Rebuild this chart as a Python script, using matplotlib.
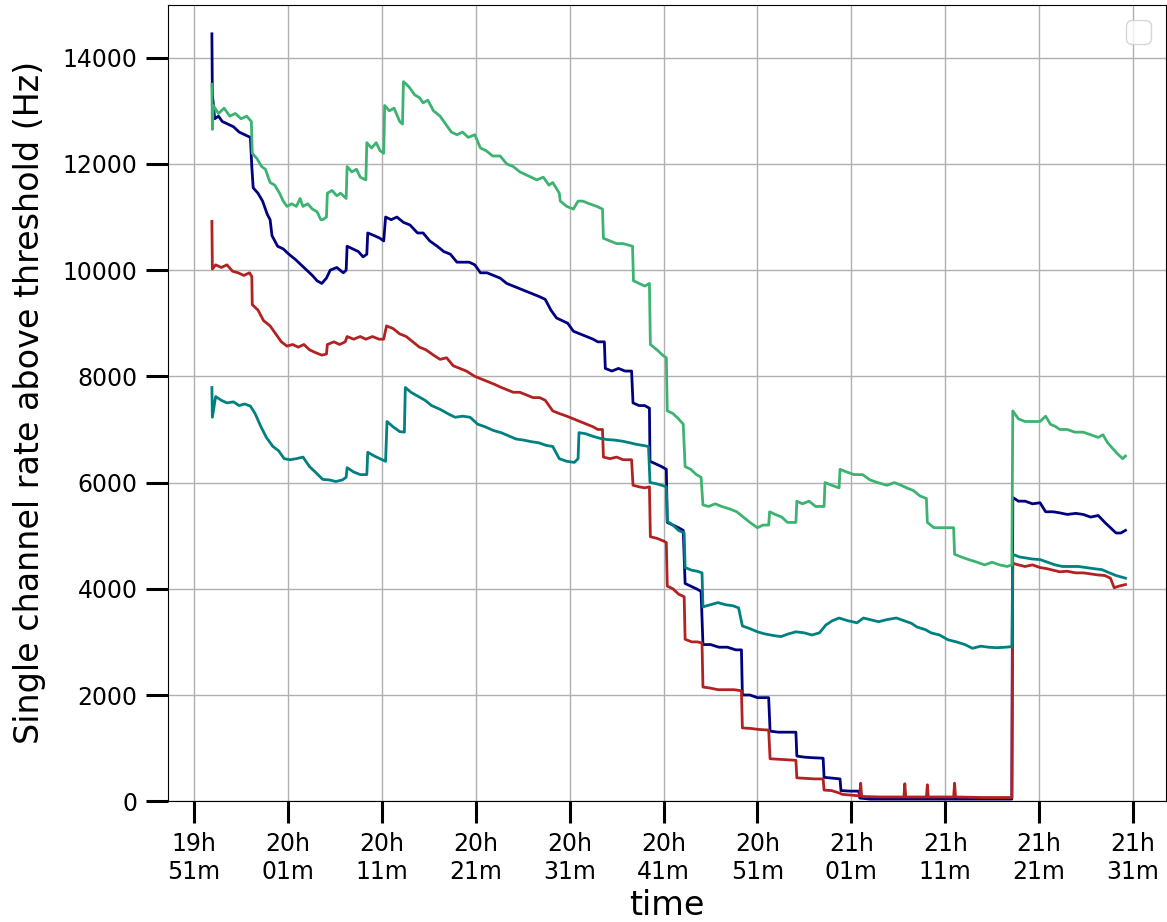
import matplotlib
matplotlib.use('Agg')
import matplotlib.pyplot as plt
import matplotlib.dates as mdates
import pandas as pd

# minutes after 19h51m and single channel rate (Hz) for each channel
navy_t = [1.9, 1.95, 2.2, 2.6, 3.0, 3.6, 4.2, 4.8, 5.4, 6.0, 6.15, 6.3, 6.8, 7.3, 7.8, 8.1, 8.3, 8.9, 9.5, 10.1,
          10.8, 11.4, 12.0, 12.6, 13.1, 13.6, 14.1, 14.5, 15.2, 15.9, 16.2, 16.3, 16.9, 17.5, 18.0, 18.4, 18.5, 19.2,
          19.8, 20.2, 20.4, 21.0, 21.6, 22.3, 23.0, 23.8, 24.4, 25.1, 25.9, 26.6, 27.3, 28.0, 28.6, 29.3, 29.9, 30.5,
          31.2, 31.9, 32.6, 33.3, 34.0, 34.7, 35.4, 36.1, 36.8, 37.4, 38.0, 38.6, 39.2, 39.8, 40.4, 41.1, 41.8, 42.5,
          43.0, 43.7, 43.8, 44.5, 45.2, 45.9, 46.6, 46.75, 47.4, 48.0, 48.5, 48.56, 49.2, 49.8, 50.3, 50.4, 51.0,
          51.6, 52.1, 52.3, 52.9, 53.5, 54.0, 54.2, 55.0, 55.9, 56.8, 57.7, 58.3, 58.4, 59.2, 60.0, 60.8, 61.2,
          61.35, 62.2, 63.0, 64.1, 64.2, 65.0, 65.8, 67.0, 67.1, 67.7, 68.3, 68.8, 68.9, 69.9, 70.8, 70.9, 72.0,
          75.0, 78.0, 81.0, 84.0, 87.1, 87.2, 87.8, 88.5, 89.3, 90.1, 90.7, 91.5, 92.2, 93.0, 93.9, 94.7, 95.5,
          96.3, 97.0, 97.6, 98.2, 98.7, 99.2]
navy_v = [14450, 13300, 12850, 12900, 12800, 12750, 12700, 12600, 12550, 12500, 11950, 11550, 11450, 11300, 11050,
          10950, 10650, 10450, 10400, 10300, 10200, 10100, 10000, 9900, 9800, 9750, 9850, 10000, 10050, 9950, 10000,
          10450, 10400, 10350, 10250, 10300, 10700, 10650, 10600, 10550, 11000, 10950, 11000, 10900, 10850, 10700,
          10700, 10550, 10450, 10350, 10300, 10150, 10150, 10150, 10100, 9950, 9950, 9900, 9850, 9750, 9700, 9650,
          9600, 9550, 9500, 9450, 9250, 9100, 9050, 9000, 8850, 8800, 8750, 8700, 8650, 8650, 8150, 8100, 8150,
          8100, 8100, 7500, 7450, 7450, 7400, 6400, 6350, 6300, 6250, 5250, 5200, 5150, 5100, 4100, 4050, 4000,
          3950, 2950, 2950, 2900, 2900, 2850, 2850, 2000, 2000, 1950, 1950, 1950, 1320, 1300, 1300, 1300, 850, 830,
          820, 810, 450, 440, 430, 420, 200, 190, 190, 60, 40, 40, 40, 40, 40, 40, 5720, 5650, 5650, 5600, 5620,
          5450, 5450, 5430, 5400, 5420, 5400, 5350, 5380, 5250, 5150, 5050, 5050, 5100]

green_t = [1.9, 1.95, 2.05, 2.6, 3.2, 3.8, 4.4, 5.0, 5.6, 6.1, 6.2, 6.7, 7.2, 7.6, 8.1, 8.6, 9.1, 9.5, 9.9, 10.4,
           10.9, 11.3, 11.6, 12.1, 12.6, 13.1, 13.5, 13.7, 14.1, 14.2, 14.7, 15.2, 15.6, 16.2, 16.3, 16.8, 17.3,
           17.7, 18.3, 18.4, 18.9, 19.4, 19.8, 20.2, 20.3, 20.8, 21.3, 21.9, 22.2, 22.3, 22.9, 23.5, 24.0, 24.4,
           24.9, 25.5, 26.2, 26.8, 27.4, 28.0, 28.6, 29.2, 29.9, 30.5, 31.1, 31.8, 32.6, 33.3, 34.0, 34.7, 35.3,
           35.9, 36.5, 37.2, 37.8, 38.2, 38.9, 39.0, 39.7, 40.4, 40.9, 41.4, 42.1, 42.9, 43.5, 43.6, 44.3, 45.0,
           45.7, 46.7, 46.8, 47.4, 48.0, 48.5, 48.6, 49.3, 49.9, 50.3, 50.4, 51.0, 51.6, 52.1, 52.3, 52.9, 53.5,
           54.0, 54.2, 54.8, 55.5, 56.2, 57.1, 57.8, 58.5, 59.2, 60.0, 60.6, 61.2, 61.3, 61.9, 62.6, 63.2, 64.1,
           64.2, 64.8, 65.5, 66.2, 67.1, 67.2, 67.9, 68.7, 68.8, 69.5, 70.3, 71.2, 72.0, 72.8, 73.8, 74.6, 75.3,
           75.9, 76.6, 77.3, 78.0, 78.1, 78.8, 79.6, 80.3, 80.9, 81.0, 81.7, 82.5, 83.4, 84.2, 85.0, 85.8, 86.6,
           87.1, 87.2, 87.8, 88.5, 89.3, 90.1, 90.7, 91.2, 91.8, 92.2, 93.0, 93.8, 94.7, 95.5, 96.3, 96.8, 97.3,
           97.8, 98.3, 98.9, 99.2]
green_v = [13500, 12650, 13100, 12950, 13050, 12900, 12950, 12850, 12900, 12800, 12200, 12100, 11950, 11900, 11650,
           11600, 11450, 11300, 11200, 11250, 11200, 11350, 11200, 11250, 11150, 11100, 10950, 10950, 11000, 11450,
           11500, 11400, 11450, 11350, 11950, 11850, 11900, 11750, 11700, 12400, 12300, 12400, 12250, 12200, 13100,
           13000, 13050, 12800, 12750, 13550, 13450, 13300, 13250, 13150, 13200, 13000, 12900, 12750, 12600, 12550,
           12600, 12500, 12550, 12300, 12250, 12150, 12150, 12000, 11950, 11850, 11800, 11750, 11700, 11750, 11600,
           11650, 11450, 11300, 11200, 11150, 11300, 11300, 11250, 11200, 11150, 10600, 10550, 10500, 10500, 10450,
           9800, 9750, 9700, 9750, 8600, 8500, 8400, 8350, 7350, 7300, 7200, 7100, 6300, 6250, 6150, 6100, 5580,
           5550, 5600, 5550, 5500, 5450, 5350, 5250, 5150, 5200, 5200, 5450, 5400, 5350, 5250, 5250, 5650, 5600,
           5650, 5550, 5550, 6000, 5950, 5900, 6250, 6200, 6150, 6150, 6050, 6000, 5950, 6000, 5950, 5900, 5850,
           5750, 5700, 5250, 5150, 5150, 5150, 5150, 4650, 4600, 4550, 4500, 4450, 4500, 4450, 4420, 4450, 7350,
           7200, 7150, 7150, 7150, 7250, 7100, 7050, 7000, 7000, 6950, 6950, 6900, 6850, 6900, 6750, 6650, 6550,
           6450, 6500]

red_t = [1.9, 1.95, 2.3, 2.9, 3.5, 4.1, 4.7, 5.3, 5.9, 6.15, 6.2, 6.8, 7.4, 8.1, 8.7, 9.3, 9.9, 10.5, 11.1, 11.7,
         12.3, 12.9, 13.6, 14.1, 14.2, 14.9, 15.5, 16.1, 16.3, 17.0, 17.7, 18.3, 19.0, 19.7, 20.2, 20.5, 21.2, 21.9,
         22.6, 23.3, 24.0, 24.7, 25.5, 26.2, 26.9, 27.6, 28.3, 29.0, 29.9, 30.6, 31.3, 32.0, 32.6, 33.3, 34.0, 34.7,
         35.4, 36.1, 36.8, 37.4, 38.2, 38.9, 39.7, 40.4, 41.1, 41.8, 42.5, 43.0, 43.5, 43.6, 44.3, 45.0, 45.7, 46.6,
         46.75, 47.4, 48.0, 48.5, 48.6, 49.3, 50.0, 50.3, 50.4, 51.0, 51.6, 52.2, 52.3, 53.0, 53.6, 54.1, 54.2, 55.0,
         55.8, 56.7, 57.5, 58.3, 58.4, 59.3, 60.2, 61.2, 61.35, 62.3, 63.2, 64.1, 64.2, 65.1, 66.1, 67.0, 67.1, 67.9,
         68.8, 69.0, 70.9, 71.0, 71.1, 73.0, 75.6, 75.7, 75.8, 78.0, 78.1, 78.2, 80.9, 81.0, 81.1, 84.0, 87.1, 87.2,
         87.8, 88.5, 89.3, 90.1, 90.8, 91.5, 92.2, 93.0, 93.9, 94.7, 95.5, 96.3, 97.0, 97.6, 98.0, 98.5, 99.2]
red_v = [10920, 10020, 10100, 10050, 10100, 9980, 9950, 9900, 9950, 9880, 9350, 9250, 9050, 8950, 8800, 8650, 8570,
         8600, 8550, 8600, 8500, 8450, 8400, 8420, 8600, 8650, 8600, 8650, 8750, 8700, 8750, 8700, 8750, 8700, 8700,
         8950, 8900, 8800, 8750, 8650, 8550, 8500, 8400, 8320, 8350, 8200, 8150, 8100, 8000, 7950, 7900, 7850, 7800,
         7750, 7700, 7700, 7650, 7600, 7600, 7550, 7350, 7300, 7250, 7200, 7150, 7100, 7050, 7000, 7000, 6480, 6450,
         6480, 6430, 6430, 5950, 5920, 5900, 5920, 4980, 4950, 4900, 4870, 4050, 4000, 3900, 3850, 3050, 3000, 3000,
         2980, 2150, 2130, 2100, 2100, 2100, 2080, 1380, 1370, 1350, 1340, 800, 790, 780, 770, 440, 430, 420, 420,
         210, 200, 150, 130, 100, 340, 90, 80, 80, 330, 80, 80, 310, 80, 80, 340, 80, 70, 70, 4480, 4450, 4420,
         4450, 4400, 4380, 4350, 4320, 4330, 4300, 4300, 4280, 4260, 4250, 4200, 4020, 4050, 4080]

teal_t = [1.9, 1.95, 2.3, 2.9, 3.5, 4.2, 4.8, 5.4, 6.0, 6.5, 7.1, 7.7, 8.4, 9.0, 9.6, 10.2, 10.9, 11.6, 12.3, 12.9,
          13.7, 14.4, 15.1, 15.8, 16.2, 16.3, 17.0, 17.7, 18.4, 18.5, 19.2, 19.8, 20.4, 20.55, 21.2, 21.9, 22.4,
          22.5, 23.1, 23.9, 24.6, 25.3, 26.2, 27.0, 27.8, 28.6, 29.4, 30.2, 31.0, 31.9, 32.7, 33.5, 34.3, 35.1,
          35.9, 36.7, 37.5, 38.2, 38.9, 39.7, 40.5, 40.9, 41.0, 41.7, 42.5, 43.3, 44.0, 44.8, 45.6, 46.4, 47.1,
          47.8, 48.4, 48.56, 49.2, 49.8, 50.3, 50.4, 51.0, 51.6, 52.2, 52.3, 53.0, 53.6, 54.1, 54.2, 55.0, 55.8,
          56.6, 57.4, 58.0, 58.4, 59.2, 60.0, 60.8, 61.7, 62.5, 63.3, 64.1, 65.0, 65.8, 66.6, 67.3, 68.0, 68.7,
          69.6, 70.6, 71.3, 72.0, 72.9, 73.8, 74.8, 75.6, 76.4, 77.0, 77.9, 78.5, 79.4, 80.3, 81.2, 82.1, 82.9,
          83.8, 84.6, 85.5, 86.4, 87.1, 87.2, 87.9, 88.6, 89.3, 90.1, 90.9, 91.7, 92.5, 93.4, 94.2, 95.0, 95.8,
          96.7, 97.5, 98.2, 98.8, 99.2]
teal_v = [7790, 7230, 7620, 7550, 7500, 7520, 7450, 7480, 7440, 7300, 7060, 6850, 6680, 6600, 6450, 6430, 6450,
          6480, 6300, 6200, 6060, 6050, 6020, 6050, 6100, 6280, 6200, 6150, 6150, 6570, 6500, 6450, 6400, 7150,
          7050, 6960, 6950, 7790, 7700, 7620, 7550, 7450, 7380, 7300, 7230, 7250, 7230, 7100, 7050, 6980, 6940,
          6880, 6820, 6800, 6770, 6750, 6700, 6680, 6450, 6400, 6380, 6450, 6940, 6920, 6870, 6830, 6810, 6800,
          6780, 6750, 6720, 6700, 6680, 6000, 5980, 5950, 5920, 5270, 5200, 5100, 5050, 4400, 4350, 4330, 4300,
          3660, 3700, 3740, 3700, 3680, 3640, 3300, 3250, 3190, 3150, 3120, 3100, 3150, 3190, 3170, 3130, 3170,
          3320, 3400, 3450, 3400, 3360, 3450, 3420, 3380, 3420, 3450, 3400, 3350, 3280, 3230, 3170, 3130, 3040,
          3000, 2950, 2880, 2920, 2900, 2890, 2900, 2910, 4650, 4600, 4580, 4560, 4550, 4500, 4450, 4420, 4420,
          4420, 4400, 4380, 4360, 4300, 4250, 4220, 4200]

start = pd.Timestamp('2021-05-20 19:51')
x_min, x_max = -2.77, 103.5
tick_minutes = [0, 10, 20, 30, 40, 50, 60, 70, 80, 90, 100]


def to_time(minutes):
    return start + pd.to_timedelta(minutes, unit='m')


fig = plt.figure(figsize=(11.67, 9.22), dpi=100)
ax = fig.add_axes([0.144, 0.131, 0.855, 0.864])

ax.plot(to_time(navy_t), navy_v, color='navy', lw=2)
ax.plot(to_time(red_t), red_v, color='firebrick', lw=2)
ax.plot(to_time(teal_t), teal_v, color='teal', lw=2)
ax.plot(to_time(green_t), green_v, color='mediumseagreen', lw=2)

ax.set_xlim(to_time(x_min), to_time(x_max))
ax.set_ylim(0, 15000)
ax.set_xticks(to_time(tick_minutes))
ax.xaxis.set_major_formatter(mdates.DateFormatter('%Hh\n%Mm'))
ax.set_yticks([0, 2000, 4000, 6000, 8000, 10000, 12000, 14000])

ax.grid(True, color='#b0b0b0', lw=1.0)
ax.tick_params(axis='both', which='major', length=16, width=2.2, labelsize=17, pad=6)
ax.set_xlabel('time', fontsize=24, labelpad=4)
ax.set_ylabel('Single channel rate above threshold (Hz)', fontsize=24, labelpad=12)
ax.legend(loc='upper right', fontsize=22)

fig.savefig('out.png', dpi=100)
